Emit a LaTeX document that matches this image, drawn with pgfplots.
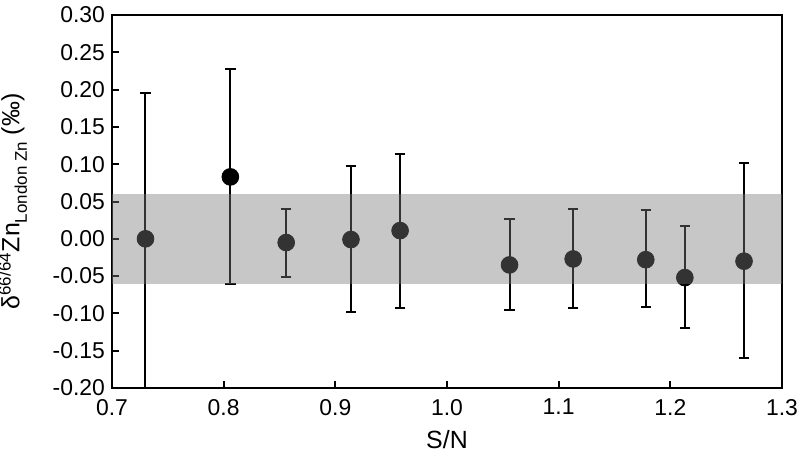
\documentclass[border=0pt]{standalone}
\usepackage{fontspec}
\setmainfont{Liberation Sans}
\usepackage{pgfplots}
\pgfplotsset{compat=1.18}
\usepackage{pgfplotstable}
\usetikzlibrary{calc}

\definecolor{bandgray}{RGB}{122,122,122}

% S/N, delta, error up, error down
\pgfplotstableread{
x      y       ep     em
0.730  0.000   0.196  0.200
0.806  0.083   0.144  0.144
0.856 -0.005   0.045  0.046
0.914 -0.001   0.098  0.097
0.958  0.011   0.103  0.104
1.056 -0.035   0.062  0.061
1.113 -0.027   0.067  0.066
1.178 -0.028   0.066  0.063
1.213 -0.052   0.069  0.068
1.266 -0.030   0.132  0.130
}\zndata

\begin{document}
\begin{tikzpicture}
\begin{axis}[
    name=ax,
    scale only axis,
    width=335bp, height=186.5bp,
    xmin=0.7, xmax=1.3,
    ymin=-0.2, ymax=0.3,
    xtick={0.7,0.8,...,1.3},
    ytick={-0.2,-0.15,-0.1,-0.05,0,0.05,0.1,0.15,0.2,0.25,0.3},
    tick pos=left,
    tick align=inside,
    major tick length=3.5bp,
    axis line style={line width=1bp},
    every tick/.style={black, line width=1bp},
    clip marker paths=true,
    /pgf/number format/assume math mode=true,
    xticklabel shift=2bp,
    xticklabel style={/pgf/number format/.cd, fixed, fixed zerofill, precision=1},
    yticklabel style={/pgf/number format/.cd, fixed, fixed zerofill, precision=2},
    tick label style={font=\fontsize{11.5}{13}\selectfont},
    label style={font=\fontsize{12.5}{14}\selectfont},
    xlabel={S/N},
    ylabel={δ\textsuperscript{\fontsize{8.5}{9}\selectfont 66/64}Zn\raisebox{-0.3em}{\fontsize{8.5}{9}\selectfont London Zn} (‰)},
    xlabel style={yshift=-1bp},
    ylabel style={yshift=6bp},
]
\addplot[
    only marks, black,
    mark=*, mark size=4.2bp,
    error bars/.cd,
        y dir=both, y explicit,
        error bar style={line width=1bp, black},
        error mark options={rotate=90, mark size=2.6bp, line width=1bp, black},
] table[x=x, y=y, y error plus=ep, y error minus=em] {\zndata};
\addplot[draw=none, fill=bandgray, fill opacity=0.42]
    coordinates {(0.7,-0.06) (1.3,-0.06) (1.3,0.06) (0.7,0.06)} -- cycle;
\end{axis}
\pgfresetboundingbox
\path[use as bounding box] ($(ax.south west)+(-56bp,-38.5bp)$) rectangle ($(ax.north east)+(8.5bp,7.5bp)$);
\end{tikzpicture}
\end{document}
